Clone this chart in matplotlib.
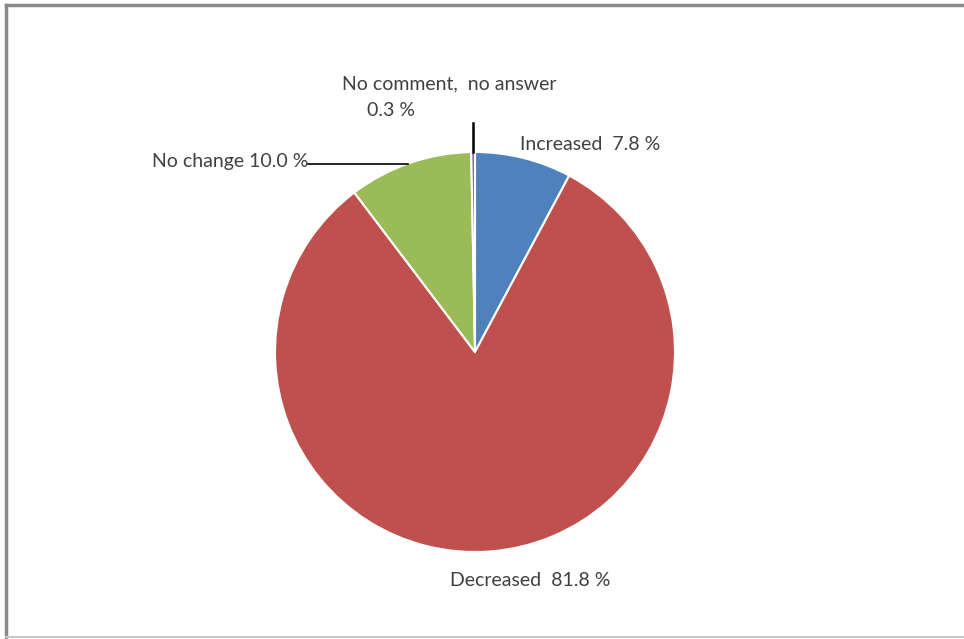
import matplotlib
matplotlib.use("Agg")
import matplotlib.pyplot as plt
from matplotlib.lines import Line2D

# Survey answers, share of respondents in percent
categories = ["Increased", "Decreased", "No change", "No comment, no answer"]
shares = [7.8, 81.8, 10.0, 0.3]
colors = ["#4F81BD", "#C0504D", "#9BBB59", "#8064A2"]

W, H = 964, 639
fig = plt.figure(figsize=(W / 100, H / 100), dpi=100)
ax = fig.add_axes([0, 0, 1, 1])
ax.set_xlim(0, W)
ax.set_ylim(0, H)
ax.set_aspect("equal")
ax.axis("off")

def py(y):
    # pixel row (from top) -> data y
    return H - y

cx, cy, r = 475, py(352), 200
ax.pie(shares, colors=colors, startangle=90, counterclock=False,
       center=(cx, cy), radius=r,
       wedgeprops=dict(edgecolor="white", linewidth=1.5))
ax.set_xlim(0, W)
ax.set_ylim(0, H)

txt = dict(fontsize=14, color="#404040", family=["Lato", "DejaVu Sans"], va="center")

def lab(i):
    return f"{shares[i]:.1f} %"

ax.text(590, py(145), f"{categories[0]}  {lab(0)}", ha="center", **txt)
ax.text(530, py(580), f"{categories[1]}  {lab(1)}", ha="center", **txt)
ax.text(308, py(162), f"{categories[2]} {lab(2)}", ha="right", **txt)
ax.text(449, py(84), "No comment,  no answer", ha="center", **txt)
ax.text(391, py(110), lab(3), ha="center", **txt)

# leader lines
ax.plot([308, 408], [py(164), py(164)], color="black", lw=1.2)
ax.plot([473, 473], [py(123), py(152)], color="black", lw=1.8)

# outer frame
fig.add_artist(Line2D([6 / W, 6 / W], [1 - 5 / H, 1 - 637 / H], color="#8a8a8a", lw=2.5))
fig.add_artist(Line2D([6 / W, 1], [1 - 5 / H, 1 - 5 / H], color="#8a8a8a", lw=2.5))
fig.add_artist(Line2D([6 / W, 1], [1 - 637 / H, 1 - 637 / H], color="#c8c8c8", lw=1.5))

fig.savefig("out.png", dpi=100)
